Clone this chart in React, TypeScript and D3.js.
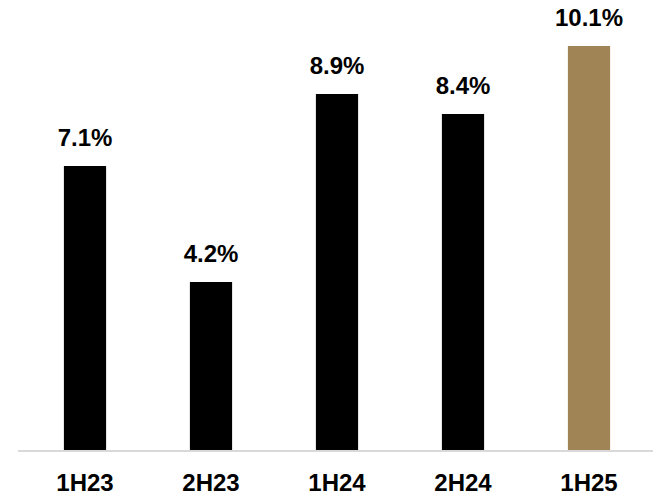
import * as d3 from "d3";
import { useEffect, useRef } from "react";

const periods = ["1H23", "2H23", "1H24", "2H24", "1H25"];
const values = [7.1, 4.2, 8.9, 8.4, 10.1];
const barColors = ["#000000", "#000000", "#000000", "#000000", "#A08455"];

function App() {
  const ref = useRef<SVGSVGElement>(null);

  useEffect(() => {
    document.body.style.margin = "0";
    const width = 659;
    const height = 496;
    const baseline = 450;

    const svg = d3.select(ref.current!);
    svg.selectAll("*").remove();
    svg.attr("width", width).attr("height", height);

    const x = d3.scaleBand<string>()
      .domain(periods)
      .range([22, 652])
      .paddingInner(0.665)
      .paddingOuter(0.3325);

    const y = d3.scaleLinear().domain([0, 11]).range([baseline, baseline - 440]);

    svg.append("g")
      .selectAll("rect")
      .data(values)
      .join("rect")
      .attr("x", (_, i) => x(periods[i])!)
      .attr("width", x.bandwidth())
      .attr("y", d => y(d))
      .attr("height", d => baseline - y(d))
      .attr("fill", (_, i) => barColors[i]);

    svg.append("line")
      .attr("x1", 18)
      .attr("x2", 653)
      .attr("y1", baseline + 1)
      .attr("y2", baseline + 1)
      .attr("stroke", "#d9d9d9")
      .attr("stroke-width", 2);

    svg.append("g")
      .selectAll("text")
      .data(values)
      .join("text")
      .attr("x", (_, i) => x(periods[i])! + x.bandwidth() / 2)
      .attr("y", d => y(d) - 20)
      .attr("text-anchor", "middle")
      .attr("font-family", "Liberation Sans, Arial, sans-serif")
      .attr("font-weight", "bold")
      .attr("font-size", 24)
      .attr("fill", "#000")
      .text(d => d.toFixed(1) + "%");

    svg.append("g")
      .selectAll("text")
      .data(periods)
      .join("text")
      .attr("x", d => x(d)! + x.bandwidth() / 2)
      .attr("y", 491)
      .attr("text-anchor", "middle")
      .attr("font-family", "Liberation Sans, Arial, sans-serif")
      .attr("font-weight", "bold")
      .attr("font-size", 24)
      .attr("fill", "#000")
      .text(d => d);
  }, []);

  return <svg ref={ref} style={{ display: "block" }}></svg>;
}

export default App;
